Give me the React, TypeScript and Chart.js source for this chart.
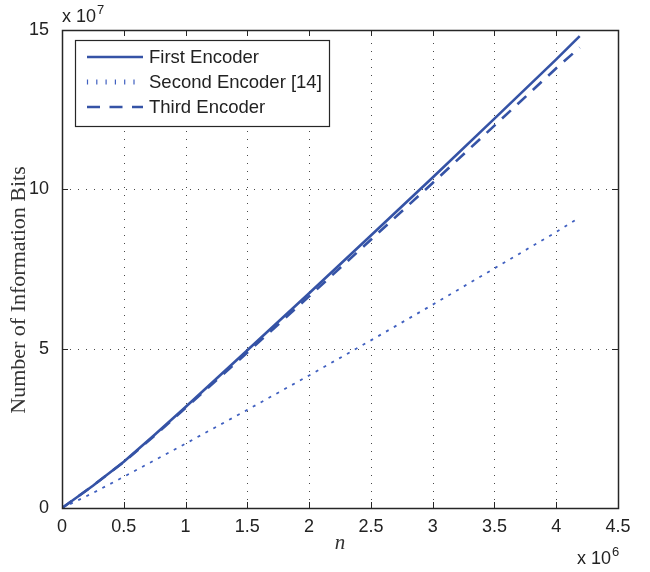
import { useEffect, useRef } from "react";
import { Chart, registerables } from "chart.js";

Chart.register(...registerables);

// n in units of 10^6, number of information bits in units of 10^7
const nValues = [0, 0.25, 0.5, 0.75, 1, 1.5, 2, 2.5, 3, 3.5, 4, 4.19];
const firstEncoder = [0, 0.7, 1.45, 2.3, 3.17, 4.95, 6.74, 8.55, 10.37, 12.22, 14.08, 14.81];
const secondEncoder = [0, 0.47, 0.98, 1.5, 2.02, 3.08, 4.16, 5.26, 6.38, 7.52, 8.66, 9.12];
const thirdEncoder = [0, 0.7, 1.44, 2.27, 3.14, 4.88, 6.64, 8.42, 10.2, 12.0, 13.8, 14.45];
const seriesLabels = ["First Encoder", "Second Encoder [14]", "Third Encoder"];
const xTicks = [0, 0.5, 1, 1.5, 2, 2.5, 3, 3.5, 4, 4.5];
const yTicks = [0, 5, 10, 15];
const xExponent = "6";
const yExponent = "7";
const xTitle = "n";
const yTitle = "Number of Information Bits";

const BLUE = "#3553a6";
const BLUE_DOT = "#4060c0";
const SANS = '"Liberation Sans", Arial, Helvetica, sans-serif';
const SERIF = '"Liberation Serif", "Times New Roman", serif';

const toPoints = (ys: number[]) => nValues.map((x, i) => ({ x, y: ys[i] }));

const matlabPlugin = {
  id: "matlabFrame",
  beforeDatasetsDraw(chart: any) {
    const { ctx, chartArea: a, scales } = chart;
    ctx.save();
    ctx.strokeStyle = "rgba(40,40,40,0.85)";
    ctx.lineWidth = 1;
    ctx.setLineDash([1, 7]);
    xTicks.forEach((v) => {
      if (v === xTicks[0] || v === xTicks[xTicks.length - 1]) return;
      const x = Math.round(scales.x.getPixelForValue(v)) + 0.5;
      ctx.beginPath();
      ctx.moveTo(x, a.bottom);
      ctx.lineTo(x, a.top);
      ctx.stroke();
    });
    yTicks.forEach((v) => {
      if (v === yTicks[0] || v === yTicks[yTicks.length - 1]) return;
      const y = Math.round(scales.y.getPixelForValue(v)) + 0.5;
      ctx.beginPath();
      ctx.moveTo(a.left, y);
      ctx.lineTo(a.right, y);
      ctx.stroke();
    });
    ctx.restore();
  },
  afterDatasetsDraw(chart: any) {
    const { ctx, chartArea: a, scales } = chart;
    ctx.save();
    ctx.setLineDash([]);
    ctx.strokeStyle = "#262626";
    ctx.lineWidth = 1;
    // ticks inward on all sides
    const tl = 6;
    xTicks.forEach((v) => {
      const x = Math.round(scales.x.getPixelForValue(v)) + 0.5;
      ctx.beginPath();
      ctx.moveTo(x, a.bottom);
      ctx.lineTo(x, a.bottom - tl);
      ctx.moveTo(x, a.top);
      ctx.lineTo(x, a.top + tl);
      ctx.stroke();
    });
    yTicks.forEach((v) => {
      const y = Math.round(scales.y.getPixelForValue(v)) + 0.5;
      ctx.beginPath();
      ctx.moveTo(a.left, y);
      ctx.lineTo(a.left + tl, y);
      ctx.moveTo(a.right, y);
      ctx.lineTo(a.right - tl, y);
      ctx.stroke();
    });
    // box
    ctx.lineWidth = 1.5;
    ctx.strokeRect(Math.round(a.left) + 0.5, Math.round(a.top) + 0.5, Math.round(a.right - a.left), Math.round(a.bottom - a.top));

    // legend
    const lx = 75, ly = 40, lw = 254, lh = 86;
    ctx.fillStyle = "#ffffff";
    ctx.fillRect(lx, ly, lw, lh);
    ctx.lineWidth = 1.2;
    ctx.strokeStyle = "#262626";
    ctx.strokeRect(lx + 0.5, ly + 0.5, lw, lh);
    const rows = [57, 82, 107];
    const styles = [
      { dash: [] as number[], w: 2.6, c: BLUE },
      { dash: [1.5, 7.8], w: 1.6, c: BLUE_DOT },
      { dash: [13, 9.5], w: 2.6, c: BLUE },
    ];
    rows.forEach((ry, i) => {
      const s = styles[i];
      ctx.save();
      ctx.strokeStyle = s.c;
      ctx.lineWidth = s.w;
      ctx.setLineDash(s.dash);
      ctx.beginPath();
      if (i === 1) {
        // dotted sample appears as small vertical marks
        ctx.setLineDash([]);
        ctx.lineWidth = 1.2;
        for (let k = 0; k < 6; k++) {
          const x = 87.5 + k * 9.3;
          ctx.moveTo(x, ry - 2.5);
          ctx.lineTo(x, ry + 2.5);
        }
      } else {
        ctx.moveTo(87, ry);
        ctx.lineTo(143, ry);
      }
      ctx.stroke();
      ctx.restore();
      ctx.fillStyle = "#222222";
      ctx.font = `18.5px ${SANS}`;
      ctx.textAlign = "left";
      ctx.textBaseline = "middle";
      ctx.fillText(seriesLabels[i], 149, ry + 1);
    });

    // exponent labels
    ctx.fillStyle = "#222222";
    ctx.textBaseline = "alphabetic";
    ctx.textAlign = "left";
    ctx.font = `18px ${SANS}`;
    ctx.fillText("x 10", 62, 22);
    let w = ctx.measureText("x 10").width;
    ctx.font = `13px ${SANS}`;
    ctx.fillText(yExponent, 62 + w + 1, 14);
    ctx.font = `18px ${SANS}`;
    ctx.fillText("x 10", 577, 564);
    w = ctx.measureText("x 10").width;
    ctx.font = `13px ${SANS}`;
    ctx.fillText(xExponent, 577 + w + 1, 556);

    // axis titles
    ctx.font = `italic 21px ${SERIF}`;
    ctx.textAlign = "center";
    ctx.textBaseline = "middle";
    ctx.fillStyle = "#333333";
    ctx.fillText(xTitle, (a.left + a.right) / 2, 543);
    ctx.save();
    ctx.translate(19, 290);
    ctx.rotate(-Math.PI / 2);
    ctx.font = `22px ${SERIF}`;
    ctx.fillText(yTitle, 0, 0);
    ctx.restore();
    ctx.restore();
  },
};

export default function App() {
  const ref = useRef<HTMLCanvasElement | null>(null);
  useEffect(() => {
    if (!ref.current) return;
    const chart = new Chart(ref.current, {
      type: "scatter",
      data: {
        datasets: [
          {
            label: seriesLabels[0],
            data: toPoints(firstEncoder),
            showLine: true,
            borderColor: BLUE,
            borderWidth: 2.6,
            pointRadius: 0,
            tension: 0,
          },
          {
            label: seriesLabels[1],
            data: toPoints(secondEncoder),
            showLine: true,
            borderColor: BLUE_DOT,
            borderWidth: 1.8,
            borderDash: [3, 6],
            pointRadius: 0,
            tension: 0,
          },
          {
            label: seriesLabels[2],
            data: toPoints(thirdEncoder),
            showLine: true,
            borderColor: BLUE,
            borderWidth: 2.6,
            borderDash: [12, 9],
            pointRadius: 0,
            tension: 0,
          },
        ],
      },
      options: {
        animation: false,
        responsive: false,
        maintainAspectRatio: false,
        layout: { padding: { left: 0, top: 30, right: 32, bottom: 0 } },
        plugins: { legend: { display: false }, tooltip: { enabled: false } },
        scales: {
          x: {
            type: "linear",
            min: 0,
            max: 4.5,
            afterBuildTicks: (s: any) => {
              s.ticks = xTicks.map((value) => ({ value }));
            },
            afterFit: (s: any) => {
              s.height = 64;
            },
            grid: { display: false },
            border: { display: false },
            ticks: {
              autoSkip: false,
              maxRotation: 0,
              padding: 0,
              color: "#222222",
              font: { family: SANS, size: 18 },
              callback: (v: any) => String(v),
            },
          },
          y: {
            type: "linear",
            min: 0,
            max: 15,
            afterBuildTicks: (s: any) => {
              s.ticks = yTicks.map((value) => ({ value }));
            },
            afterFit: (s: any) => {
              s.width = 62;
            },
            grid: { display: false },
            border: { display: false },
            ticks: {
              autoSkip: false,
              padding: 5,
              color: "#222222",
              font: { family: SANS, size: 18 },
              callback: (v: any) => String(v),
            },
          },
        },
      },
      plugins: [matlabPlugin],
    });
    return () => chart.destroy();
  }, []);
  return (
    <div style={{ position: "absolute", left: 0, top: 0, width: 650, height: 572, background: "#fff" }}>
      <canvas ref={ref} width={650} height={572} style={{ display: "block" }} />
    </div>
  );
}
